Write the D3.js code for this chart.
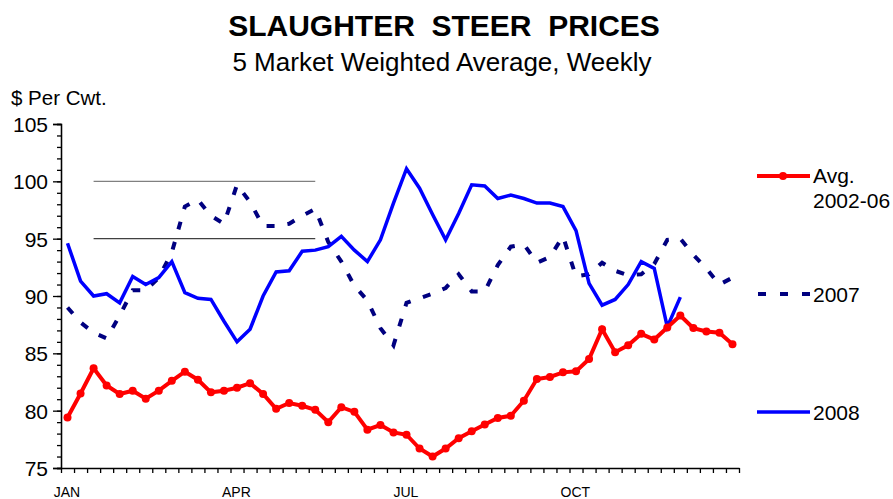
<!DOCTYPE html>
<html>
<head>
<meta charset="utf-8">
<script src="https://cdn.jsdelivr.net/npm/d3@7"></script>
<style>
  body { margin: 0; background: #fff; }
  text { font-family: "Liberation Sans", Arial, sans-serif; fill: #000; }
</style>
</head>
<body>
<svg id="chart"></svg>
<script>
  'use strict';

  // weekly values (52 weeks)
  var weeks = d3.range(0, 52);
  var avg0206 = [79.4, 81.5, 83.7, 82.2, 81.45, 81.74, 81.04, 81.74, 82.6, 83.4, 82.7, 81.6, 81.74, 82.0, 82.4, 81.45,
    80.17, 80.67, 80.43, 80.08, 79.0, 80.3, 79.9, 78.34, 78.75, 78.1, 77.9, 76.7, 76.0, 76.7, 77.6, 78.2, 78.8, 79.36,
    79.56, 80.87, 82.76, 82.94, 83.34, 83.43, 84.5, 87.1, 85.1, 85.7, 86.7, 86.2, 87.26, 88.3, 87.2, 86.9, 86.8, 85.8];
  var y2007 = [89.0, 87.7, 86.8, 86.3, 88.3, 90.5, 90.5, 91.6, 93.8, 97.8, 98.4, 97.0, 96.3, 99.7, 98.2, 96.1,
    96.1, 96.3, 97.0, 97.6, 94.7, 93.0, 90.9, 89.6, 87.2, 85.7, 89.4, 89.8, 90.2, 90.7, 91.9, 90.4, 90.4, 92.7,
    94.3, 94.5, 92.9, 93.4, 95.2, 91.7, 91.9, 92.9, 92.2, 91.8, 91.9, 92.8, 94.9, 95.0, 93.6, 92.4, 91.0, 91.6];
  var y2008 = [94.6, 91.3, 90.0, 90.2, 89.4, 91.7, 91.0, 91.6, 93.0, 90.3, 89.8, 89.7, 87.8, 86.0, 87.1, 90.0,
    92.1, 92.2, 93.9, 94.0, 94.3, 95.2, 94.0, 93.0, 94.9, 98.1, 101.1, 99.4, 97.1, 94.9, 97.2, 99.7, 99.6, 98.5,
    98.8, 98.5, 98.1, 98.1, 97.8, 95.7, 91.1, 89.2, 89.7, 91.0, 93.0, 92.4, 87.3, 89.9, null, null, null, null];
  var monthLabels = ['JAN', 'APR', 'JUL', 'OCT'];
  var refLevels = [100, 95];          // the two thin guide lines
  var refWeeks = [2, 19];

  var W = 893, H = 499;
  var margin = {top: 124, right: 154, bottom: 31, left: 61};
  var width = W - margin.left - margin.right;
  var height = H - margin.top - margin.bottom;

  var svg = d3.select('#chart').attr('width', W).attr('height', H);

  // titles
  svg.append('text')
      .attr('x', 444).attr('y', 36)
      .attr('text-anchor', 'middle')
      .style('font-size', '30px').style('font-weight', 'bold')
      .style('white-space', 'pre')
      .text('SLAUGHTER  STEER  PRICES');
  svg.append('text')
      .attr('x', 442).attr('y', 71)
      .attr('text-anchor', 'middle')
      .style('font-size', '26px')
      .text('5 Market Weighted Average, Weekly');
  svg.append('text')
      .attr('x', 11).attr('y', 105)
      .style('font-size', '20.5px')
      .text('$ Per Cwt.');

  var g = svg.append('g')
      .attr('transform', `translate(${margin.left}, ${margin.top})`);

  // band scale for the weeks, linear one for the tick edges
  var xBand = d3.scaleBand().domain(weeks).range([0, width]).padding(0);
  var xEdge = d3.scaleLinear().domain([0, 52]).range([0, width]);
  var yScale = d3.scaleLinear().domain([75, 105]).range([height, 0]);
  var xMid = function (i) { return xBand(i) + xBand.bandwidth() / 2; };

  // guide lines
  refLevels.forEach(function (v, k) {
    g.append('line')
        .attr('x1', xMid(refWeeks[0])).attr('x2', xMid(refWeeks[1]))
        .attr('y1', yScale(v)).attr('y2', yScale(v))
        .attr('stroke', k === 0 ? '#808080' : '#404040')
        .attr('stroke-width', 1.2);
  });

  // y axis: minor ticks every 1, major every 5
  var yMinor = g.append('g')
      .call(d3.axisLeft(yScale).tickValues(d3.range(75, 106, 1)).tickSize(4).tickFormat(''));
  var yMajor = g.append('g')
      .call(d3.axisLeft(yScale).tickValues(d3.range(75, 106, 5)).tickSize(8).tickPadding(5));
  yMajor.selectAll('text').style('font-size', '21px')
      .style('font-family', '"Liberation Sans", Arial, sans-serif').attr('dy', '0.36em');
  [yMinor, yMajor].forEach(function (a) {
    a.select('.domain').attr('stroke', '#000').attr('stroke-width', 1.3);
    a.selectAll('.tick line').attr('stroke', '#000').attr('stroke-width', 1.3);
  });

  // x axis: one tick per week edge
  var xAx = g.append('g')
      .attr('transform', 'translate(0,' + height + ')')
      .call(d3.axisBottom(xEdge).tickValues(d3.range(0, 53)).tickSize(5).tickSizeOuter(0).tickFormat(''));
  xAx.select('.domain').attr('stroke', '#000').attr('stroke-width', 1.3);
  xAx.selectAll('.tick line').attr('stroke', '#000').attr('stroke-width', 1.3);

  monthLabels.forEach(function (m, k) {
    g.append('text')
        .attr('x', xEdge(k * 13 + 0.45))
        .attr('y', height + 29)
        .attr('text-anchor', 'middle')
        .style('font-size', '14px')
        .text(m);
  });

  var line = function (arr) {
    return d3.line()
      .defined(function (d) { return arr[d] != null; })
      .x(function (d) { return xMid(d); })
      .y(function (d) { return yScale(arr[d]); });
  };

  // 2007 dashed
  g.append('path')
      .datum(weeks)
      .attr('fill', 'none')
      .attr('stroke', '#000080')
      .attr('stroke-width', 4)
      .attr('stroke-dasharray', '8,13')
      .attr('d', line(y2007));

  // 2008 solid blue
  g.append('path')
      .datum(weeks)
      .attr('fill', 'none')
      .attr('stroke', '#0000ff')
      .attr('stroke-width', 3.5)
      .attr('stroke-linejoin', 'miter')
      .attr('d', line(y2008));

  // 2002-06 average with markers
  g.append('path')
      .datum(weeks)
      .attr('fill', 'none')
      .attr('stroke', '#ff0000')
      .attr('stroke-width', 4)
      .attr('d', line(avg0206));
  g.selectAll('.dot')
      .data(weeks)
      .enter().append('circle')
      .attr('cx', function (d) { return xMid(d); })
      .attr('cy', function (d) { return yScale(avg0206[d]); })
      .attr('r', 4)
      .attr('fill', '#ff0000');

  // legend
  var leg = svg.append('g');
  leg.append('line').attr('x1', 757).attr('x2', 810).attr('y1', 176).attr('y2', 176)
      .attr('stroke', '#ff0000').attr('stroke-width', 4);
  leg.append('circle').attr('cx', 783).attr('cy', 176).attr('r', 4).attr('fill', '#ff0000');
  leg.append('text').attr('x', 813).attr('y', 183).style('font-size', '21px').text('Avg.');
  leg.append('text').attr('x', 813).attr('y', 208).style('font-size', '21px').text('2002-06');

  leg.append('line').attr('x1', 758).attr('x2', 810).attr('y1', 294).attr('y2', 294)
      .attr('stroke', '#000080').attr('stroke-width', 4).attr('stroke-dasharray', '8,14');
  leg.append('text').attr('x', 813).attr('y', 302).style('font-size', '21px').text('2007');

  leg.append('line').attr('x1', 757).attr('x2', 810).attr('y1', 412).attr('y2', 412)
      .attr('stroke', '#0000ff').attr('stroke-width', 3.5);
  leg.append('text').attr('x', 813).attr('y', 420).style('font-size', '21px').text('2008');
</script>
</body>
</html>
